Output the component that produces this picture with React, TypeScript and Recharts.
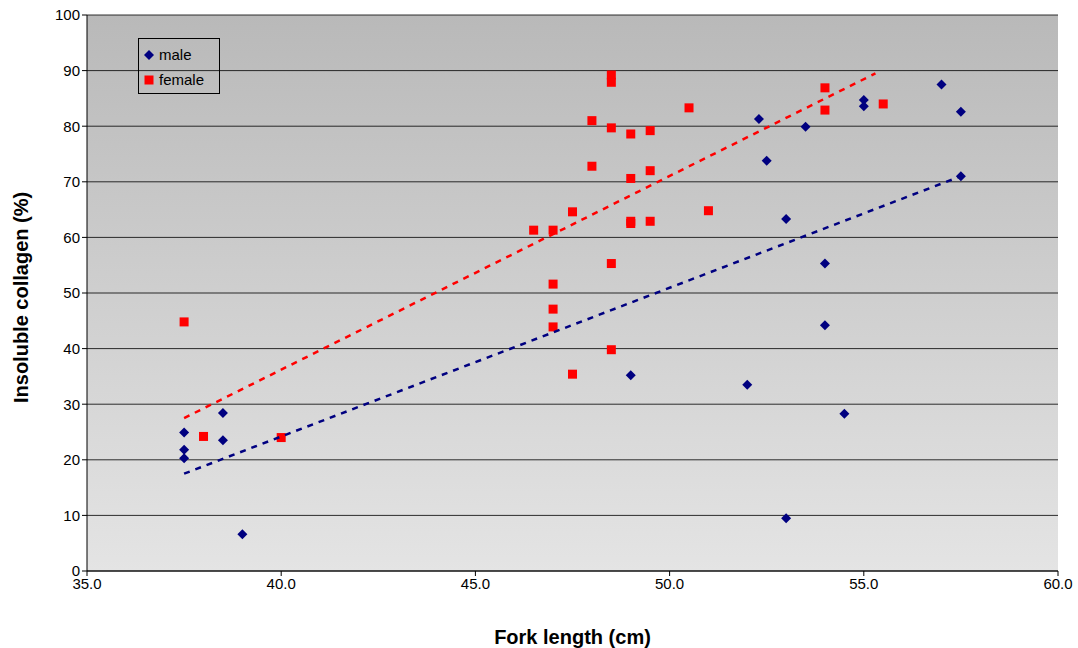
import { ScatterChart, Scatter, XAxis, YAxis, CartesianGrid } from 'recharts';

const maleX = [37.5, 37.5, 37.5, 38.5, 38.5, 39, 49, 52, 52.3, 52.5, 53, 53, 53.5, 54, 54, 54.5, 55, 55, 57, 57.5, 57.5];
const maleY = [24.9, 21.8, 20.3, 28.4, 23.5, 6.6, 35.2, 33.5, 81.3, 73.8, 63.3, 9.5, 79.9, 55.3, 44.2, 28.3, 84.7, 83.6, 87.5, 82.6, 71];
const femaleX = [37.5, 38, 40, 46.5, 47, 47, 47, 47, 47.5, 47.5, 48, 48, 48.5, 48.5, 48.5, 48.5, 48.5, 49, 49, 49, 49, 49.5, 49.5, 49.5, 50.5, 51, 54, 54, 55.5];
const femaleY = [44.8, 24.2, 24, 61.3, 61.3, 51.6, 47.1, 43.9, 64.6, 35.4, 81, 72.8, 89.2, 87.9, 79.7, 55.3, 39.8, 78.6, 70.6, 62.9, 62.5, 79.2, 72, 62.9, 83.3, 64.8, 86.9, 82.9, 84];
const maleTrend = [{ x: 37.5, y: 17.5 }, { x: 57.5, y: 71 }];
const femaleTrend = [{ x: 37.5, y: 27.5 }, { x: 55.3, y: 89.5 }];
const xTicks = [35, 40, 45, 50, 55, 60];
const yTicks = [0, 10, 20, 30, 40, 50, 60, 70, 80, 90, 100];

const male = maleX.map((x, i) => ({ x, y: maleY[i] }));
const female = femaleX.map((x, i) => ({ x, y: femaleY[i] }));

const Diamond = (props: any) => {
  const { cx, cy } = props;
  return <path d={`M${cx},${cy - 5}L${cx + 5},${cy}L${cx},${cy + 5}L${cx - 5},${cy}Z`} fill="#000080" />;
};
const Square = (props: any) => {
  const { cx, cy } = props;
  return <rect x={cx - 4.5} y={cy - 4.5} width={9} height={9} fill="#ff0000" />;
};
const NoDot = () => null;

const font = 'Arial, Liberation Sans, sans-serif';

const LegendBox = () => (
  <div style={{ position: 'absolute', left: 138, top: 38, width: 82, height: 56, border: '1px solid #000', fontFamily: font, fontSize: 15, padding: '3px 0', boxSizing: 'border-box' }}>
    <div style={{ display: 'flex', alignItems: 'center', height: 25 }}>
      <svg width={20} height={12}><path d="M10,1L15,6L10,11L5,6Z" fill="#000080" /></svg>
      <span>male</span>
    </div>
    <div style={{ display: 'flex', alignItems: 'center', height: 25 }}>
      <svg width={20} height={12}><rect x={5.5} y={1.5} width={9} height={9} fill="#ff0000" /></svg>
      <span>female</span>
    </div>
  </div>
);

export default function App() {
  return (
    <div style={{ position: 'absolute', left: 0, top: 0, width: 1078, height: 648, background: '#fff' }}>
      <ScatterChart width={1078} height={648} margin={{ top: 15, right: 20, bottom: 0, left: 27 }}>
        <defs>
          <linearGradient id="bg" x1="0" y1="0" x2="0" y2="1">
            <stop offset="0%" stopColor="#b9b9b9" />
            <stop offset="100%" stopColor="#e4e4e4" />
          </linearGradient>
        </defs>
        <CartesianGrid vertical={false} fill="url(#bg)" stroke="#000" strokeOpacity={0.8} />
        <XAxis
          type="number" dataKey="x" domain={[35, 60]} ticks={xTicks} tickFormatter={(v: number) => v.toFixed(1)}
          stroke="#000" tick={{ fill: '#000', fontSize: 15, fontFamily: font }} tickSize={5} height={77}
          label={{ value: 'Fork length (cm)', position: 'insideBottom', offset: 4, fill: '#000', fontSize: 20, fontWeight: 'bold', fontFamily: font }}
        />
        <YAxis
          type="number" dataKey="y" domain={[0, 100]} ticks={yTicks} width={60}
          stroke="#000" tick={{ fill: '#000', fontSize: 15, fontFamily: font }} tickSize={5}
          label={{ value: 'Insoluble collagen (%)', angle: -90, position: 'insideLeft', offset: -6, dy: 110, fill: '#000', fontSize: 20, fontWeight: 'bold', fontFamily: font }}
        />
        <Scatter name="male" data={male} shape={<Diamond />} isAnimationActive={false} />
        <Scatter name="female" data={female} shape={<Square />} isAnimationActive={false} />
        <Scatter data={maleTrend} line={{ stroke: '#000080', strokeWidth: 2.5, strokeDasharray: '6 6' }} shape={<NoDot />} legendType="none" isAnimationActive={false} />
        <Scatter data={femaleTrend} line={{ stroke: '#ff0000', strokeWidth: 2.5, strokeDasharray: '6 6' }} shape={<NoDot />} legendType="none" isAnimationActive={false} />
      </ScatterChart>
      <LegendBox />
    </div>
  );
}
